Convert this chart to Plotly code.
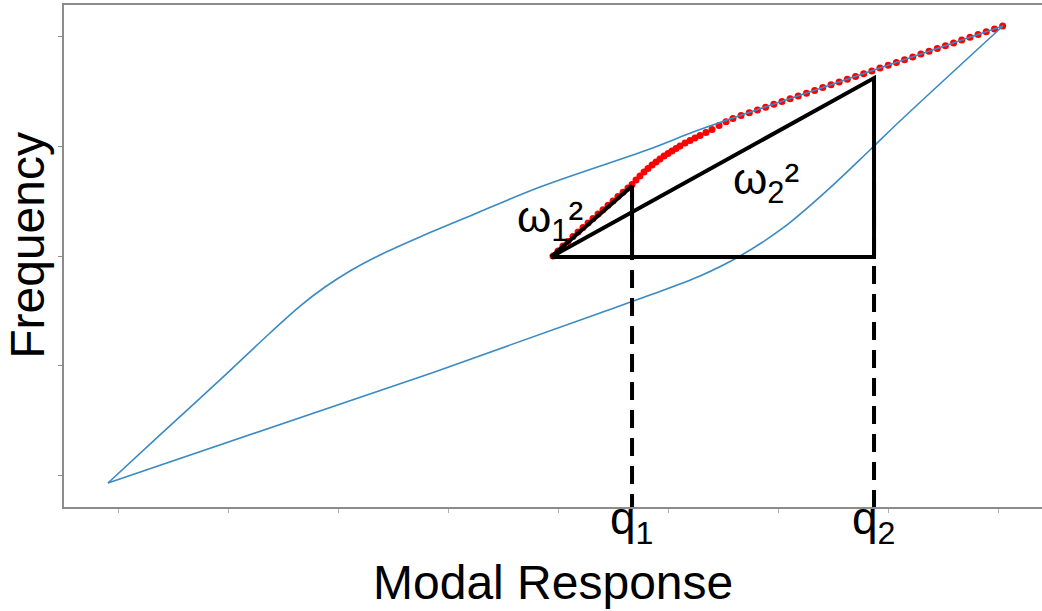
import plotly.graph_objects as go

# ---- data (axis units: one tick = 1 unit) ----
upper_x = [-0.091, 0.382, 0.927, 1.382, 1.655, 1.882, 2.109, 2.382, 2.745, 3.200,
           3.836, 4.809, 5.291, 6.500, 8.045]
upper_y = [-0.064, 0.373, 0.873, 1.300, 1.545, 1.718, 1.864, 2.009, 2.173, 2.364,
           2.627, 2.964, 3.149, 3.563, 4.091]

lower_x = [8.045, 7.109, 6.836, 6.500, 6.045, 5.655, 5.291, 4.836, 4.382, 2.745, -0.091]
lower_y = [4.091, 3.227, 2.964, 2.645, 2.255, 2.000, 1.818, 1.645, 1.482, 0.900, -0.064]

red_x = [3.955, 4.000, 4.045, 4.091, 4.136, 4.182, 4.227, 4.273, 4.318, 4.364,
         4.409, 4.455, 4.500, 4.545, 4.591, 4.636, 4.673,
         4.709, 4.745, 4.782, 4.818, 4.855, 4.891, 4.927, 4.964, 5.000, 5.036,
         5.073, 5.109, 5.155, 5.200, 5.245, 5.291, 5.345, 5.400, 5.464, 5.527,
         5.590, 5.664, 5.739, 5.813, 5.887, 5.962, 6.036, 6.110, 6.184, 6.259,
         6.333, 6.407, 6.482, 6.556, 6.630, 6.705, 6.779, 6.853, 6.927, 7.002,
         7.076, 7.150, 7.225, 7.299, 7.373, 7.448, 7.522, 7.596, 7.670, 7.745,
         7.819, 7.893, 7.968, 8.042]
red_y = [2.000, 2.045, 2.091, 2.132, 2.177, 2.218, 2.259, 2.300, 2.341, 2.382,
         2.421, 2.461, 2.500, 2.540, 2.579, 2.618, 2.650,
         2.691, 2.727, 2.764, 2.795, 2.827, 2.855, 2.882, 2.909, 2.932, 2.955,
         2.977, 3.000, 3.027, 3.050, 3.073, 3.095, 3.123, 3.150, 3.186, 3.220,
         3.251, 3.277, 3.302, 3.328, 3.353, 3.379, 3.404, 3.429, 3.454, 3.480,
         3.505, 3.531, 3.556, 3.582, 3.607, 3.633, 3.658, 3.683, 3.709, 3.734,
         3.760, 3.785, 3.810, 3.836, 3.861, 3.887, 3.912, 3.937, 3.963, 3.988,
         4.014, 4.039, 4.064, 4.090]

# triangle construction
x0, y0 = 3.936, 1.991          # common vertex
q1, w1_top = 4.673, 2.636      # small triangle
q2, w2_top = 6.873, 3.618      # large triangle
q2_dash_top = 2.673

x_ticks = [0, 1, 2, 3, 4, 5, 6, 7, 8]
y_ticks = [0, 1, 2, 3, 4]

x_range = [-0.491, 8.4]
y_range = [-0.282, 4.282]

FONT = "Liberation Sans, Arial, sans-serif"
BLUE = "#3a8ac4"

fig = go.Figure()

fig.add_trace(go.Scatter(x=red_x, y=red_y, mode="markers",
                         marker=dict(size=7, color="#ff0000", line=dict(width=0)),
                         hoverinfo="skip"))
fig.add_trace(go.Scatter(x=upper_x, y=upper_y, mode="lines",
                         line=dict(color=BLUE, width=1.6, shape="spline", smoothing=1.0)))
fig.add_trace(go.Scatter(x=lower_x, y=lower_y, mode="lines",
                         line=dict(color=BLUE, width=1.6, shape="spline", smoothing=1.0)))

# dashed projections
fig.add_trace(go.Scatter(x=[q1, q1], y=[w1_top, y_range[0]], mode="lines",
                         line=dict(color="black", width=4, dash="18px,10px")))
fig.add_trace(go.Scatter(x=[q2, q2], y=[q2_dash_top, y_range[0]], mode="lines",
                         line=dict(color="black", width=4, dash="18px,10px")))

# triangles
fig.add_trace(go.Scatter(x=[x0, q1, q1], y=[y0, w1_top, y0], mode="lines",
                         line=dict(color="black", width=4)))
fig.add_trace(go.Scatter(x=[x0, q2, q2, x0], y=[y0, w2_top, y0, y0], mode="lines",
                         line=dict(color="black", width=4)))

ann = [
    dict(text="Frequency", xref="paper", yref="paper", x=-0.037, y=0.522,
         textangle=-90, showarrow=False, xanchor="center", yanchor="middle",
         font=dict(size=48, color="black", family=FONT)),
    dict(text="Modal Response", xref="paper", yref="paper", x=0.5, y=-0.151,
         showarrow=False, xanchor="center", yanchor="middle",
         font=dict(size=48, color="black", family=FONT)),
    dict(text="q<sub>1</sub>", xref="x", yref="paper", x=q1, y=-0.028,
         showarrow=False, xanchor="center", yanchor="middle",
         font=dict(size=46, color="black", family=FONT)),
    dict(text="q<sub>2</sub>", xref="x", yref="paper", x=q2, y=-0.028,
         showarrow=False, xanchor="center", yanchor="middle",
         font=dict(size=46, color="black", family=FONT)),
    dict(text="ω<sub>1</sub>²", xref="x", yref="y", x=3.927, y=2.327,
         showarrow=False, xanchor="center", yanchor="middle",
         font=dict(size=44, color="black", family=FONT)),
    dict(text="ω<sub>2</sub>²", xref="x", yref="y", x=5.891, y=2.673,
         showarrow=False, xanchor="center", yanchor="middle",
         font=dict(size=44, color="black", family=FONT)),
]

fig.update_layout(
    width=1042, height=611,
    margin=dict(l=64, r=0, t=5, b=104),
    paper_bgcolor="white", plot_bgcolor="white",
    showlegend=False,
    annotations=ann,
    xaxis=dict(range=x_range, tickvals=x_ticks, showticklabels=False,
               ticks="outside", ticklen=4, tickcolor="#b0b0b0", tickwidth=1,
               showgrid=False, zeroline=False, showline=True, mirror=True,
               linecolor="#8c8c8c", linewidth=1.5),
    yaxis=dict(range=y_range, tickvals=y_ticks, showticklabels=False,
               ticks="outside", ticklen=4, tickcolor="#8c8c8c", tickwidth=1,
               showgrid=False, zeroline=False, showline=True, mirror=False,
               linecolor="#8c8c8c", linewidth=1.5),
)

fig.write_html("out.html")
